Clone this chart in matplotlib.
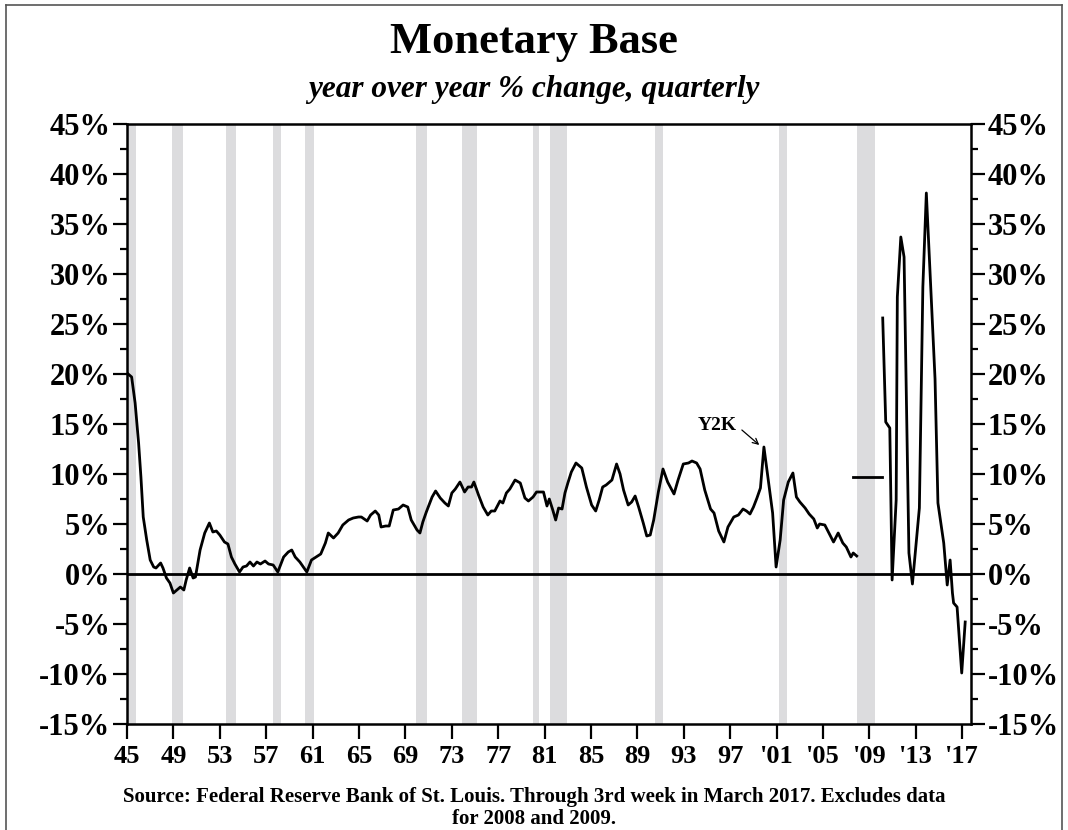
import matplotlib
matplotlib.use('Agg')
import matplotlib.pyplot as plt
from matplotlib.lines import Line2D
from matplotlib.ticker import MultipleLocator, FuncFormatter

plt.rcParams['font.family'] = 'Liberation Serif'
plt.rcParams['font.weight'] = 'bold'

# yoy % change of the monetary base (decimal years)
pre_years = [1945.0, 1945.4, 1945.7, 1946.0, 1946.2, 1946.4, 1946.7, 1947.0, 1947.3, 1947.5,
             1947.9, 1948.1, 1948.4, 1948.7, 1949.0, 1949.3, 1949.6, 1949.9, 1950.1, 1950.4,
             1950.7, 1950.9, 1951.3, 1951.7, 1952.1, 1952.4, 1952.7, 1953.0, 1953.4, 1953.7,
             1954.0, 1954.3, 1954.7, 1955.0, 1955.3, 1955.6, 1955.9, 1956.2, 1956.5, 1956.9,
             1957.2, 1957.6, 1958.0, 1958.5, 1958.9, 1959.2, 1959.5, 1959.9, 1960.5, 1960.9,
             1961.3, 1961.7, 1962.1, 1962.35, 1962.8, 1963.2, 1963.6, 1964.1, 1964.5, 1964.95,
             1965.2, 1965.7, 1966.0, 1966.4, 1966.7, 1966.9, 1967.3, 1967.6, 1967.95, 1968.4,
             1968.8, 1969.2, 1969.5, 1970.0, 1970.25, 1970.5, 1970.8, 1971.3, 1971.6, 1972.0,
             1972.4, 1972.7, 1973.0, 1973.3, 1973.7, 1974.1, 1974.4, 1974.7, 1974.9, 1975.3,
             1975.7, 1976.1, 1976.4, 1976.7, 1977.15, 1977.4, 1977.7, 1978.0, 1978.45, 1978.9,
             1979.3, 1979.6, 1980.0, 1980.3, 1980.6, 1980.9, 1981.2, 1981.4, 1981.7, 1981.95,
             1982.2, 1982.5, 1982.75, 1983.0, 1983.3, 1983.7, 1984.2, 1984.6, 1985.05, 1985.4,
             1985.7, 1986.0, 1986.3, 1986.5, 1986.8, 1987.2, 1987.5, 1987.8, 1988.2, 1988.5,
             1988.8, 1989.1, 1989.5, 1989.8, 1990.1, 1990.4, 1990.8, 1991.2, 1991.6, 1992.15,
             1992.5, 1992.95, 1993.4, 1993.7, 1994.1, 1994.4, 1994.8, 1995.3, 1995.6, 1996.0,
             1996.45, 1996.8, 1997.3, 1997.7, 1998.1, 1998.4, 1998.7, 1999.0, 1999.3, 1999.6,
             1999.9, 2000.3, 2000.65, 2000.95, 2001.3, 2001.6, 2002.0, 2002.4, 2002.7, 2003.0,
             2003.45, 2003.8, 2004.2, 2004.5, 2004.7, 2005.15, 2005.5, 2005.9, 2006.3, 2006.7,
             2007.0, 2007.4, 2007.6, 2007.9]
pre_vals = [20.1, 19.7, 17.1, 13.1, 9.7, 5.7, 3.4, 1.4, 0.7, 0.6,
            1.1, 0.6, -0.4, -0.9, -1.9, -1.6, -1.3, -1.6, -0.6, 0.6,
            -0.4, -0.3, 2.4, 4.1, 5.1, 4.2, 4.3, 3.9, 3.2, 3.0,
            1.7, 1.0, 0.2, 0.7, 0.8, 1.2, 0.8, 1.2, 1.0, 1.3,
            1.0, 0.9, 0.2, 1.7, 2.2, 2.4, 1.7, 1.2, 0.2, 1.4,
            1.7, 2.0, 3.1, 4.1, 3.6, 4.1, 4.9, 5.4, 5.6, 5.7,
            5.7, 5.3, 5.9, 6.3, 5.9, 4.7, 4.8, 4.8, 6.4, 6.5,
            6.9, 6.7, 5.4, 4.4, 4.1, 5.2, 6.2, 7.7, 8.3, 7.6,
            7.1, 6.8, 8.1, 8.5, 9.2, 8.2, 8.7, 8.7, 9.2, 7.9,
            6.7, 5.9, 6.3, 6.3, 7.3, 7.1, 8.1, 8.5, 9.4, 9.1,
            7.6, 7.3, 7.7, 8.2, 8.2, 8.2, 6.8, 7.5, 6.4, 5.4,
            6.6, 6.5, 8.1, 9.1, 10.2, 11.1, 10.6, 8.7, 6.9, 6.3,
            7.4, 8.7, 8.9, 9.1, 9.4, 11.0, 10.0, 8.4, 6.9, 7.2,
            7.8, 6.7, 5.1, 3.8, 3.9, 5.4, 8.2, 10.5, 9.2, 8.0,
            9.4, 11.0, 11.1, 11.3, 11.1, 10.5, 8.4, 6.5, 6.1, 4.3,
            3.2, 4.7, 5.7, 5.9, 6.5, 6.3, 6.0, 6.7, 7.6, 8.6,
            12.7, 9.2, 6.1, 0.7, 3.4, 7.4, 9.2, 10.1, 7.7, 7.2,
            6.6, 6.0, 5.5, 4.6, 5.0, 4.9, 4.1, 3.2, 4.1, 3.1,
            2.7, 1.7, 2.1, 1.8]

# 2008-2009 excluded, shown as a flat marker
gap_years = [2007.55, 2010.05]
gap_vals = [9.7, 9.7]

post_years = [2010.14, 2010.4, 2010.75, 2010.95, 2011.3, 2011.4, 2011.7, 2011.98, 2012.4, 2012.7,
              2013.3, 2013.6, 2013.9, 2014.65, 2014.9, 2015.4, 2015.7, 2015.95, 2016.15, 2016.25,
              2016.55, 2016.95, 2017.25]
post_vals = [25.6, 15.2, 14.6, -0.6, 7.4, 27.7, 33.7, 31.7, 2.1, -1.0,
             6.6, 28.7, 38.1, 19.5, 7.1, 3.1, -1.1, 1.4, -1.9, -2.9,
             -3.3, -9.9, -4.8]

recessions = [(1945.1, 1945.8), (1948.9, 1949.8), (1953.5, 1954.4), (1957.6, 1958.3),
              (1960.3, 1961.1), (1969.9, 1970.9), (1973.9, 1975.2), (1980.0, 1980.5),
              (1981.5, 1982.9), (1990.5, 1991.2), (2001.2, 2001.9), (2007.9, 2009.5)]

x_ticks = list(range(1945, 2018, 4))
x_labels = [str(y)[2:] if y < 2000 else "'" + str(y)[2:] for y in x_ticks]

fig = plt.figure(figsize=(10.68, 8.3), dpi=100)
ax = fig.add_axes([127/1068, 1 - 724/830, (971-127)/1068, (724-124)/830])

for start, end in recessions:
    ax.axvspan(start, end, color='#dcdcde', lw=0, zorder=0)

ax.axhline(0, color='black', lw=2.0, zorder=2)
ax.plot(pre_years, pre_vals, color='black', lw=2.0, zorder=3)
ax.plot(gap_years, gap_vals, color='black', lw=2.0, zorder=3)
ax.plot(post_years, post_vals, color='black', lw=2.0, zorder=3)

ax.text(1995.9, 14.9, 'Y2K', ha='center', va='center', fontsize=14, fontweight='bold')
ax.annotate('', xy=(1999.5, 12.9), xytext=(1998.0, 14.4),
            arrowprops=dict(arrowstyle='->', color='black', lw=0.9,
                            shrinkA=0, shrinkB=0))

ax.set_xlim(1945, 2017.75)
ax.set_ylim(-15, 45)
ax.set_xticks(x_ticks)
ax.set_xticklabels(x_labels)
ax.yaxis.set_major_locator(MultipleLocator(5))
ax.yaxis.set_minor_locator(MultipleLocator(2.5))
ax.yaxis.set_major_formatter(FuncFormatter(lambda v, p: f'{v:.0f}%'))

ax.tick_params(axis='y', which='both', direction='out', left=True, right=True,
               labelleft=True, labelright=True, labelsize=22, pad=2, width=1.6)
ax.tick_params(axis='y', which='major', length=10)
ax.tick_params(axis='y', which='minor', length=5)
ax.tick_params(axis='x', which='major', direction='out', length=11, width=1.6,
               labelsize=19, pad=4)
for lab in ax.get_xticklabels() + ax.get_yticklabels():
    lab.set_fontweight('bold')
for side in ['left', 'right', 'top', 'bottom']:
    ax.spines[side].set_linewidth(1.8)

fig.text(0.5, 1 - 42/830, 'Monetary Base', ha='center', va='center',
         fontsize=32, fontweight='bold')
fig.text(0.5, 1 - 89/830, 'year over year % change, quarterly', ha='center', va='center',
         fontsize=22.5, fontweight='bold', style='italic')
fig.text(0.5, 1 - 797/830,
         'Source: Federal Reserve Bank of St. Louis. Through 3rd week in March 2017. Excludes data',
         ha='center', va='center', fontsize=15, fontweight='bold')
fig.text(0.5, 1 - 819/830, 'for 2008 and 2009.', ha='center', va='center',
         fontsize=15, fontweight='bold')

# outer frame of the original screenshot
frame = dict(color='#555555', lw=1.2, transform=fig.transFigure)
fig.add_artist(Line2D([6/1068, 6/1068], [0, 1 - 5/830], **frame))
fig.add_artist(Line2D([6/1068, 1062/1068], [1 - 5/830, 1 - 5/830], **frame))
fig.add_artist(Line2D([1062/1068, 1062/1068], [0, 1 - 5/830], **frame))

fig.savefig('out.png', dpi=100)
